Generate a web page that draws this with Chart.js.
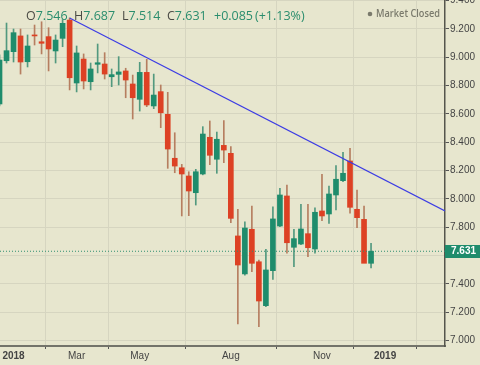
<!DOCTYPE html>
<html>
<head>
<meta charset="utf-8">
<script src="https://cdn.jsdelivr.net/npm/chart.js@4.4.0/dist/chart.umd.min.js"></script>
<style>
  html, body { margin: 0; padding: 0; background: #e7e6ce; }
  #wrap { width: 480px; height: 365px; }
</style>
</head>
<body>
<div id="wrap"><canvas id="myChart" width="480" height="365"></canvas></div>
<script>
// weekly candles, Dec 2017 - Dec 2018
const weeks = [
  '2017-12-18','2017-12-25','2018-01-01','2018-01-08','2018-01-15','2018-01-22','2018-01-29','2018-02-05','2018-02-12','2018-02-19',
  '2018-02-26','2018-03-05','2018-03-12','2018-03-19','2018-03-26','2018-04-02','2018-04-09','2018-04-16','2018-04-23','2018-04-30',
  '2018-05-07','2018-05-14','2018-05-21','2018-05-28','2018-06-04','2018-06-11','2018-06-18','2018-06-25','2018-07-02','2018-07-09',
  '2018-07-16','2018-07-23','2018-07-30','2018-08-06','2018-08-13','2018-08-20','2018-08-27','2018-09-03','2018-09-10','2018-09-17',
  '2018-09-24','2018-10-01','2018-10-08','2018-10-15','2018-10-22','2018-10-29','2018-11-05','2018-11-12','2018-11-19','2018-11-26',
  '2018-12-03','2018-12-10','2018-12-17','2018-12-24'
]
const opens = [
  8.670, 8.975, 9.039, 9.150, 8.968, 9.157, 9.109, 9.145, 9.044, 9.133,
  9.262, 8.818, 8.987, 8.827, 8.950, 8.952, 8.862, 8.879, 8.903, 8.811,
  8.703, 8.893, 8.656, 8.757, 8.597, 8.287, 8.220, 8.162, 8.044, 8.176,
  8.435, 8.280, 8.378, 8.322, 7.739, 7.471, 7.786, 7.557, 7.247, 7.494,
  7.809, 8.021, 7.659, 7.682, 7.755, 7.647, 7.915, 7.894, 8.028, 8.129,
  8.268, 7.927, 7.856, 7.546
]
const highs = [
  9.016, 9.241, 9.199, 9.199, 9.157, 9.227, 9.250, 9.208, 9.157, 9.265,
  9.277, 9.079, 9.023, 8.959, 9.093, 9.032, 8.917, 9.004, 8.922, 8.874,
  8.964, 8.985, 8.881, 8.804, 8.752, 8.467, 8.244, 8.192, 8.209, 8.510,
  8.550, 8.472, 8.552, 8.369, 7.927, 7.839, 7.950, 7.569, 7.645, 7.945,
  8.075, 8.098, 7.786, 7.962, 7.962, 7.938, 8.174, 8.091, 8.235, 8.329,
  8.357, 8.063, 7.950, 7.687
]
const lows = [
  8.656, 8.959, 8.966, 8.881, 8.931, 9.086, 9.023, 8.903, 8.959, 9.074,
  8.769, 8.755, 8.776, 8.769, 8.889, 8.846, 8.792, 8.804, 8.714, 8.564,
  8.620, 8.651, 8.637, 8.503, 8.216, 8.185, 7.880, 7.882, 7.957, 8.170,
  8.242, 8.181, 8.256, 7.832, 7.118, 7.463, 7.487, 7.099, 7.240, 7.433,
  7.804, 7.617, 7.522, 7.678, 7.593, 7.617, 7.847, 7.828, 7.922, 8.122,
  7.899, 7.797, 7.553, 7.514
]
const closes = [
  8.980, 9.046, 9.173, 8.966, 9.079, 9.150, 9.098, 9.058, 9.121, 9.239,
  8.855, 9.030, 8.832, 8.917, 8.961, 8.881, 8.877, 8.896, 8.839, 8.714,
  8.893, 8.663, 8.733, 8.608, 8.352, 8.232, 8.176, 8.056, 8.192, 8.458,
  8.308, 8.421, 8.345, 7.863, 7.534, 7.795, 7.546, 7.280, 7.499, 7.859,
  8.028, 7.691, 7.720, 7.788, 7.656, 7.906, 7.880, 8.035, 8.139, 8.181,
  7.941, 7.868, 7.546, 7.631
]

const yTicks = [7.0, 7.2, 7.4, 7.6, 7.8, 8.0, 8.2, 8.4, 8.6, 8.8, 9.0, 9.2, 9.4]
const xTickIdx = [2, 11, 20, 33, 46, 55]
const xTickText = ['2018', 'Mar', 'May', 'Aug', 'Nov', '2019']

// trend line drawn from the Feb high
const trendIdx = [10, 63.55]
const trendVal = [9.277, 7.915]

const upColor = '#1f8c6c'
const downColor = '#dd4124'
const last = closes.length - 1
const lastPrice = closes[last]

const bodyColors = closes.map((c, i) => c >= opens[i] ? upColor : downColor)
const wickColors = closes.map((c, i) => c >= opens[i] ? '#52997f' : '#b67e60')

const X_MIN = 0.07, X_MAX = 63.55

const extras = {
  id: 'extras',
  beforeDraw(chart) {
    const c = chart.ctx
    c.save()
    c.fillStyle = '#e7e6ce'
    c.fillRect(0, 0, chart.width, chart.height)
    c.restore()
  },
  afterDraw(chart) {
    const c = chart.ctx
    const y = chart.scales.y
    c.save()
    // last price label on the axis
    const py = Math.round(y.getPixelForValue(lastPrice))
    c.fillStyle = upColor
    c.fillRect(445, py - 6, 35, 13)
    c.fillStyle = '#ffffff'
    c.font = 'bold 10px "Liberation Sans"'
    c.textBaseline = 'middle'
    c.fillText(lastPrice.toFixed(3), 451, py + 0.5)

    // OHLC header
    const chg = closes[last] - closes[last - 1]
    const pct = chg / closes[last - 1] * 100
    const parts = [
      [26, 'O', opens[last].toFixed(3)],
      [74, 'H', highs[last].toFixed(3)],
      [122, 'L', lows[last].toFixed(3)],
      [167, 'C', closes[last].toFixed(3)],
      [214, '', (chg >= 0 ? '+' : '') + chg.toFixed(3)],
      [255, '', '(' + (pct >= 0 ? '+' : '') + pct.toFixed(2) + '%)']
    ]
    c.font = '12.5px "Open Sans"'
    c.textBaseline = 'middle'
    parts.forEach(p => {
      let x = p[0]
      if (p[1]) {
        c.fillStyle = '#4a4a44'
        c.fillText(p[1], x, 16)
        x += c.measureText(p[1]).width
      }
      c.fillStyle = '#2a8d6d'
      c.fillText(p[2], x, 16)
    })

    // market status
    c.fillStyle = '#7a7a6c'
    c.beginPath()
    c.arc(370, 14, 2.3, 0, Math.PI * 2)
    c.fill()
    c.font = '600 11px "Open Sans"'
    c.fillText('Market Closed', 376, 14, 64)
    c.restore()
  }
}

const ctx = document.getElementById('myChart')

new Chart(ctx, {
  type: 'bar',
  data: {
    datasets: [
      {
        type: 'line',
        data: trendIdx.map((x, i) => ({x: x, y: trendVal[i]})),
        borderColor: '#3c3ce4',
        borderWidth: 1.2,
        pointRadius: 0,
        order: 0
      },
      {
        type: 'line',
        data: [{x: X_MIN, y: lastPrice}, {x: X_MAX, y: lastPrice}],
        borderColor: '#2f8f70',
        borderWidth: 1,
        borderDash: [1, 2],
        pointRadius: 0,
        order: 1
      },
      {
        data: weeks.map((w, i) => ({x: i, y: [opens[i], closes[i]]})),
        backgroundColor: bodyColors,
        barThickness: 5,
        minBarLength: 1,
        grouped: false,
        order: 2
      },
      {
        data: weeks.map((w, i) => ({x: i, y: [lows[i], highs[i]]})),
        backgroundColor: wickColors,
        barThickness: 1,
        grouped: false,
        order: 3
      }
    ]
  },
  options: {
    responsive: false,
    animation: false,
    devicePixelRatio: 1,
    layout: { padding: 0 },
    plugins: {
      legend: { display: false },
      tooltip: { enabled: false }
    },
    scales: {
      x: {
        type: 'linear',
        min: X_MIN,
        max: X_MAX,
        offset: false,
        afterBuildTicks: s => { s.ticks = xTickIdx.map(v => ({value: v})) },
        afterFit: s => { s.height = 19; s.paddingLeft = 0; s.paddingRight = 0 },
        grid: { color: '#d6d5c0', tickLength: 3, tickColor: '#555' },
        border: { color: '#73736a', width: 2 },
        ticks: {
          autoSkip: false,
          maxRotation: 0,
          padding: 1,
          color: '#444',
          callback: (v, i) => xTickText[i],
          font: c => ({
            family: 'Liberation Sans',
            size: 10,
            weight: /^\d/.test(xTickText[c.index] || '') ? 'bold' : 'normal'
          })
        }
      },
      y: {
        position: 'right',
        min: 6.9626,
        max: 9.4035,
        afterBuildTicks: s => { s.ticks = yTicks.map(v => ({value: v})) },
        afterFit: s => { s.width = 35; s.paddingTop = 0; s.paddingBottom = 0 },
        grid: { color: '#d6d5c0', tickLength: 4, tickColor: '#555' },
        border: { color: '#55554c', width: 1.5 },
        ticks: {
          padding: 1,
          color: '#444',
          callback: v => v.toFixed(3),
          font: { family: 'Liberation Sans', size: 10 }
        }
      }
    }
  },
  plugins: [extras]
})
</script>
</body>
</html>
